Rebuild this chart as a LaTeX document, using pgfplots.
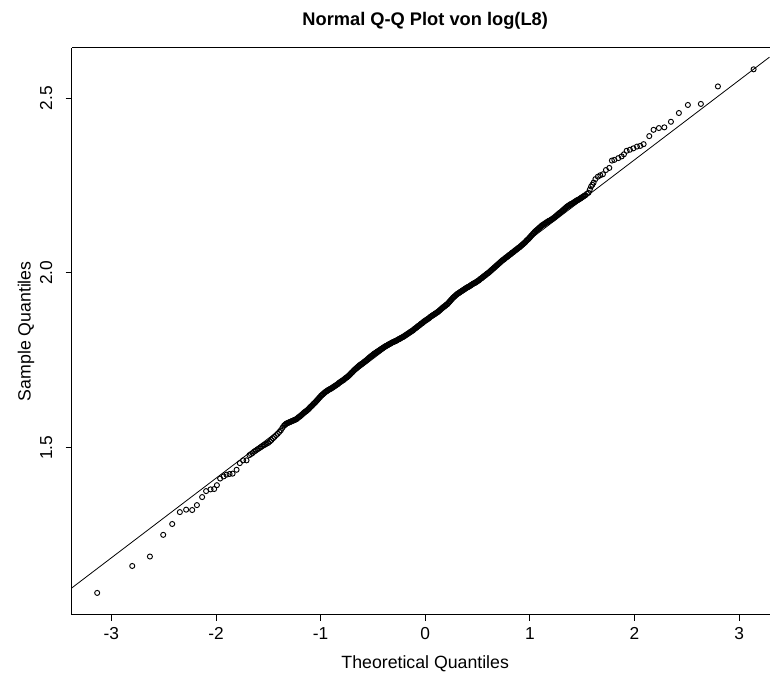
\documentclass[border=0pt]{standalone}
\usepackage{fontspec}
\setmainfont{Liberation Sans}
\usepackage{pgfplots}
\pgfplotsset{compat=1.18}
\begin{document}
\begin{tikzpicture}
\begin{axis}[
  scale only axis,
  width=523.8pt, height=425.25pt,
  xmin=-3.38, xmax=3.29, ymin=1.023, ymax=2.643,
  axis x line=box, axis y line*=left,
  y axis line style={-},
  xtick={-3,-2,-1,0,1,2,3},
  xticklabels={{-3},{-2},{-1},0,1,2,3},
  ytick={1.5,2.0,2.5},
  yticklabels={1.5,2.0,2.5},
  xtick pos=bottom, ytick pos=left,
  tick align=outside,
  major tick length=4.5pt,
  tick style={black, line width=0.6pt},
  axis line style={black, line width=0.75pt},
  xticklabel shift=1.5pt,
  yticklabel shift=6.5pt,
  ticklabel style={font=\fontsize{13pt}{15pt}\selectfont},
  yticklabel style={rotate=90, anchor=south},
  every axis title/.style={at={(axis description cs:0.5067,1.0388)}, anchor=base,
    font=\bfseries\fontsize{13.7pt}{16pt}\selectfont},
  every axis x label/.style={at={(axis description cs:0.5067,-0.0952)}, anchor=base,
    font=\fontsize{13.3pt}{15pt}\selectfont},
  every axis y label/.style={at={(axis description cs:-0.0587,0.5)}, anchor=base, rotate=90,
    font=\fontsize{13.3pt}{15pt}\selectfont},
  title={Normal Q-Q Plot von log(L8)},
  xlabel={Theoretical Quantiles},
  ylabel={Sample Quantiles},
  qq/.style={only marks, mark=o, mark size=1.9pt, mark options={black, line width=0.7pt}},
]
% qq line
\addplot[black, line width=0.6pt] coordinates {(-3.38,1.0987) (3.29,2.6168)};
% sample quantiles
\addplot[qq] table {
x y
-3.135 1.085
-2.800 1.162
-2.631 1.189
-2.504 1.251
-2.418 1.282
-2.345 1.316
-2.285 1.323
-2.227 1.322
-2.182 1.336
-2.132 1.359
-2.094 1.376
-2.052 1.381
-2.017 1.382
-1.991 1.393
-1.960 1.412
-1.927 1.418
-1.899 1.423
-1.870 1.425
-1.841 1.426
-1.803 1.437
-1.772 1.456
-1.740 1.464
-1.708 1.464
-1.68 1.479
-1.65 1.485
-1.62 1.492
-1.59 1.498
-1.56 1.504
-1.53 1.509
-1.50 1.514
-1.47 1.522
-1.44 1.531
-1.41 1.540
-1.38 1.550
-1.35 1.563
-1.335 1.567
-1.32 1.570
-1.305 1.572
-1.29 1.574
-1.275 1.576
-1.26 1.578
-1.245 1.580
-1.23 1.582
-1.215 1.586
-1.20 1.589
-1.185 1.593
-1.17 1.597
-1.155 1.601
-1.14 1.604
-1.125 1.608
-1.11 1.612
-1.095 1.617
-1.08 1.621
-1.065 1.626
-1.05 1.630
-1.035 1.635
-1.02 1.640
-1.005 1.645
-0.99 1.650
-0.975 1.654
-0.96 1.658
-0.945 1.661
-0.93 1.664
-0.915 1.667
-0.90 1.669
-0.885 1.672
-0.87 1.675
-0.855 1.678
-0.84 1.681
-0.825 1.685
-0.81 1.688
-0.795 1.691
-0.78 1.694
-0.765 1.698
-0.75 1.701
-0.735 1.705
-0.72 1.709
-0.705 1.714
-0.69 1.718
-0.675 1.723
-0.66 1.727
-0.645 1.731
-0.63 1.735
-0.615 1.738
-0.60 1.741
-0.585 1.745
-0.57 1.748
-0.555 1.752
-0.54 1.756
-0.525 1.760
-0.51 1.763
-0.495 1.767
-0.48 1.770
-0.465 1.773
-0.45 1.776
-0.435 1.779
-0.42 1.782
-0.405 1.785
-0.39 1.788
-0.375 1.791
-0.36 1.793
-0.345 1.796
-0.33 1.798
-0.315 1.801
-0.30 1.803
-0.285 1.805
-0.27 1.807
-0.255 1.810
-0.24 1.812
-0.225 1.815
-0.21 1.817
-0.195 1.820
-0.18 1.823
-0.165 1.826
-0.15 1.829
-0.135 1.832
-0.12 1.835
-0.105 1.839
-0.09 1.842
-0.075 1.846
-0.06 1.849
-0.045 1.853
-0.03 1.856
-0.015 1.860
0.00 1.863
0.015 1.866
0.03 1.869
0.045 1.873
0.06 1.876
0.075 1.879
0.09 1.882
0.105 1.885
0.12 1.888
0.135 1.892
0.15 1.896
0.165 1.900
0.18 1.903
0.195 1.907
0.21 1.910
0.225 1.915
0.24 1.920
0.255 1.925
0.27 1.930
0.285 1.934
0.30 1.938
0.315 1.941
0.33 1.944
0.345 1.947
0.36 1.950
0.375 1.953
0.39 1.956
0.405 1.959
0.42 1.961
0.435 1.964
0.45 1.967
0.465 1.970
0.48 1.972
0.495 1.975
0.51 1.978
0.525 1.982
0.54 1.985
0.555 1.989
0.57 1.992
0.585 1.996
0.60 1.999
0.615 2.003
0.63 2.007
0.645 2.011
0.66 2.015
0.675 2.019
0.69 2.023
0.705 2.027
0.72 2.031
0.735 2.035
0.75 2.038
0.765 2.042
0.78 2.045
0.795 2.049
0.81 2.052
0.825 2.056
0.84 2.059
0.855 2.063
0.87 2.066
0.885 2.070
0.90 2.073
0.915 2.077
0.93 2.081
0.945 2.085
0.96 2.089
0.975 2.094
0.99 2.098
1.005 2.103
1.02 2.108
1.035 2.113
1.05 2.118
1.065 2.122
1.08 2.126
1.095 2.130
1.11 2.134
1.125 2.137
1.14 2.140
1.155 2.143
1.17 2.146
1.185 2.149
1.20 2.151
1.215 2.154
1.23 2.157
1.245 2.161
1.26 2.165
1.275 2.169
1.29 2.172
1.305 2.176
1.32 2.180
1.335 2.184
1.35 2.188
1.365 2.191
1.38 2.194
1.395 2.197
1.41 2.199
1.425 2.202
1.44 2.205
1.455 2.208
1.47 2.210
1.485 2.213
1.50 2.216
1.515 2.219
1.53 2.222
1.56 2.229
1.585 2.247
1.597 2.252
1.609 2.258
1.626 2.268
1.650 2.275
1.673 2.279
1.698 2.282
1.727 2.294
1.759 2.300
1.784 2.321
1.807 2.323
1.845 2.328
1.877 2.333
1.899 2.339
1.925 2.349
1.956 2.352
1.989 2.356
2.023 2.361
2.055 2.363
2.087 2.368
2.141 2.391
2.182 2.409
2.233 2.414
2.285 2.416
2.348 2.432
2.424 2.457
2.510 2.480
2.634 2.483
2.797 2.533
3.138 2.582
};
% further sample quantiles in the dense centre
\addplot[qq] table {
x y
-1.665 1.482
-1.635 1.489
-1.605 1.495
-1.575 1.501
-1.545 1.507
-1.515 1.512
-1.485 1.518
-1.455 1.527
-1.425 1.536
-1.395 1.545
-1.365 1.557
-1.3425 1.565
-1.3275 1.569
-1.3125 1.571
-1.2975 1.573
-1.2825 1.575
-1.2675 1.577
-1.2525 1.579
-1.2375 1.581
-1.2225 1.584
-1.2075 1.588
-1.1925 1.591
-1.1775 1.595
-1.1625 1.599
-1.1475 1.603
-1.1325 1.606
-1.1175 1.610
-1.1025 1.615
-1.0875 1.619
-1.0725 1.624
-1.0575 1.628
-1.0425 1.633
-1.0275 1.638
-1.0125 1.643
-0.9975 1.648
-0.9825 1.652
-0.9675 1.656
-0.9525 1.660
-0.9375 1.663
-0.9225 1.666
-0.9075 1.668
-0.8925 1.671
-0.8775 1.674
-0.8625 1.677
-0.8475 1.680
-0.8325 1.683
-0.8175 1.687
-0.8025 1.690
-0.7875 1.693
-0.7725 1.696
-0.7575 1.700
-0.7425 1.703
-0.7275 1.707
-0.7125 1.712
-0.6975 1.716
-0.6825 1.721
-0.6675 1.725
-0.6525 1.729
-0.6375 1.733
-0.6225 1.737
-0.6075 1.740
-0.5925 1.743
-0.5775 1.747
-0.5625 1.750
-0.5475 1.754
-0.5325 1.758
-0.5175 1.762
-0.5025 1.765
-0.4875 1.769
-0.4725 1.772
-0.4575 1.775
-0.4425 1.778
-0.4275 1.781
-0.4125 1.784
-0.3975 1.787
-0.3825 1.790
-0.3675 1.792
-0.3525 1.795
-0.3375 1.797
-0.3225 1.800
-0.3075 1.802
-0.2925 1.804
-0.2775 1.806
-0.2625 1.809
-0.2475 1.811
-0.2325 1.814
-0.2175 1.816
-0.2025 1.819
-0.1875 1.822
-0.1725 1.825
-0.1575 1.828
-0.1425 1.831
-0.1275 1.834
-0.1125 1.837
-0.0975 1.841
-0.0825 1.844
-0.0675 1.848
-0.0525 1.851
-0.0375 1.855
-0.0225 1.858
-0.0075 1.862
0.0075 1.865
0.0225 1.868
0.0375 1.871
0.0525 1.875
0.0675 1.878
0.0825 1.881
0.0975 1.884
0.1125 1.887
0.1275 1.890
0.1425 1.894
0.1575 1.898
0.1725 1.902
0.1875 1.905
0.2025 1.909
0.2175 1.913
0.2325 1.918
0.2475 1.923
0.2625 1.928
0.2775 1.932
0.2925 1.936
0.3075 1.940
0.3225 1.943
0.3375 1.946
0.3525 1.949
0.3675 1.952
0.3825 1.955
0.3975 1.958
0.4125 1.960
0.4275 1.963
0.4425 1.966
0.4575 1.969
0.4725 1.971
0.4875 1.974
0.5025 1.977
0.5175 1.980
0.5325 1.984
0.5475 1.987
0.5625 1.991
0.5775 1.994
0.5925 1.998
0.6075 2.001
0.6225 2.005
0.6375 2.009
0.6525 2.013
0.6675 2.017
0.6825 2.021
0.6975 2.025
0.7125 2.029
0.7275 2.033
0.7425 2.037
0.7575 2.040
0.7725 2.044
0.7875 2.047
0.8025 2.051
0.8175 2.054
0.8325 2.058
0.8475 2.061
0.8625 2.065
0.8775 2.068
0.8925 2.072
0.9075 2.075
0.9225 2.079
0.9375 2.083
0.9525 2.087
0.9675 2.092
0.9825 2.096
0.9975 2.101
1.0125 2.106
1.0275 2.111
1.0425 2.116
1.0575 2.120
1.0725 2.124
1.0875 2.128
1.1025 2.132
1.1175 2.136
1.1325 2.139
1.1475 2.142
1.1625 2.145
1.1775 2.148
1.1925 2.150
1.2075 2.153
1.2225 2.156
1.2375 2.159
1.2525 2.163
1.2675 2.167
1.2825 2.171
1.2975 2.174
1.3125 2.178
1.3275 2.182
1.3425 2.186
1.3575 2.190
1.3725 2.193
1.3875 2.196
1.4025 2.198
1.4175 2.201
1.4325 2.204
1.4475 2.207
1.4625 2.209
1.4775 2.212
1.4925 2.215
1.5075 2.218
1.5225 2.221
1.545 2.226
1.5725 2.238
};
\end{axis}
\path (-53.7pt,-43.5pt) rectangle (523.8pt,461.25pt);
\end{tikzpicture}
\end{document}
